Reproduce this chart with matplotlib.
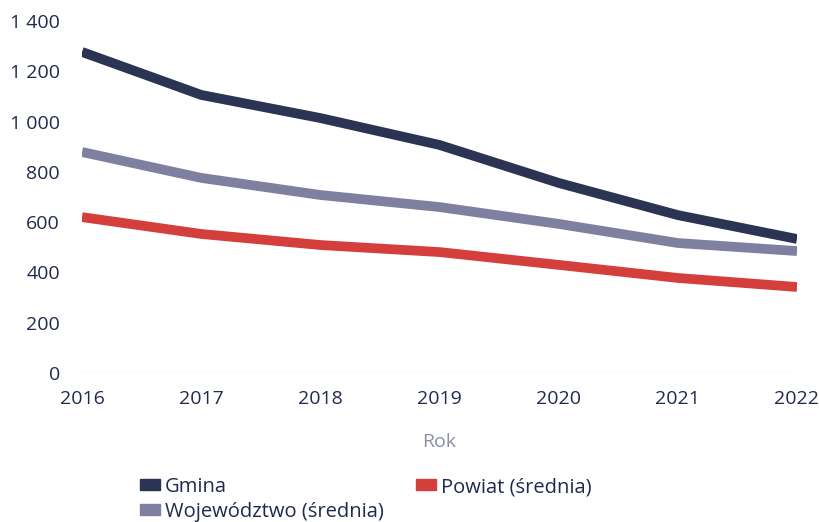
import matplotlib.pyplot as plt
from matplotlib.patches import Patch
from matplotlib.ticker import FuncFormatter

plt.rcParams['font.family'] = ['Open Sans', 'DejaVu Sans']

# Data
years = [2016, 2017, 2018, 2019, 2020, 2021, 2022]
gmina = [1277, 1106, 1014, 907, 756, 628, 533]
wojewodztwo = [879, 776, 708, 660, 593, 517, 485]
powiat = [620, 553, 509, 481, 430, 378, 342]

c_gmina = '#2b3553'
c_woj = '#7f809f'
c_pow = '#d43f3c'
c_text = '#1f2a4d'

fig = plt.figure(figsize=(8.19, 5.22), dpi=100)
ax = fig.add_axes([82 / 819, 1 - 373 / 522, (797 - 82) / 819, (373 - 21) / 522])

ax.plot(years, gmina, color=c_gmina, lw=7, solid_capstyle='butt', zorder=3)
ax.plot(years, wojewodztwo, color=c_woj, lw=7, solid_capstyle='butt', zorder=3)
ax.plot(years, powiat, color=c_pow, lw=7, solid_capstyle='butt', zorder=3)

ax.axhline(0, color='#b9bccd', lw=1, ls=':', zorder=1)

ax.set_xlim(2016, 2022)
ax.set_ylim(0, 1400)
ax.set_xticks(years)
ax.set_yticks(range(0, 1401, 200))
ax.yaxis.set_major_formatter(FuncFormatter(lambda v, p: f"{int(v):,}".replace(',', ' ')))

for s in ax.spines.values():
    s.set_visible(False)
ax.tick_params(length=0, labelsize=14, colors=c_text)
ax.tick_params(axis='y', pad=16)
ax.tick_params(axis='x', pad=12)
ax.set_xlabel('Rok', fontsize=14, color='#8a8ea6', labelpad=18)

handles = [Patch(color=c_gmina, label='Gmina'),
           Patch(color=c_woj, label='Województwo (średnia)'),
           Patch(color=c_pow, label='Powiat (średnia)')]
fig.legend(handles=handles, ncol=2, loc='upper left', bbox_to_anchor=(140 / 819, 1 - 477 / 522),
           frameon=False, fontsize=14.5, labelcolor=c_text, handlelength=1.0, handleheight=0.45,
           handletextpad=0.25, labelspacing=0.25, columnspacing=1.6, borderpad=0,
           borderaxespad=0)

fig.savefig('out.png', dpi=100)
